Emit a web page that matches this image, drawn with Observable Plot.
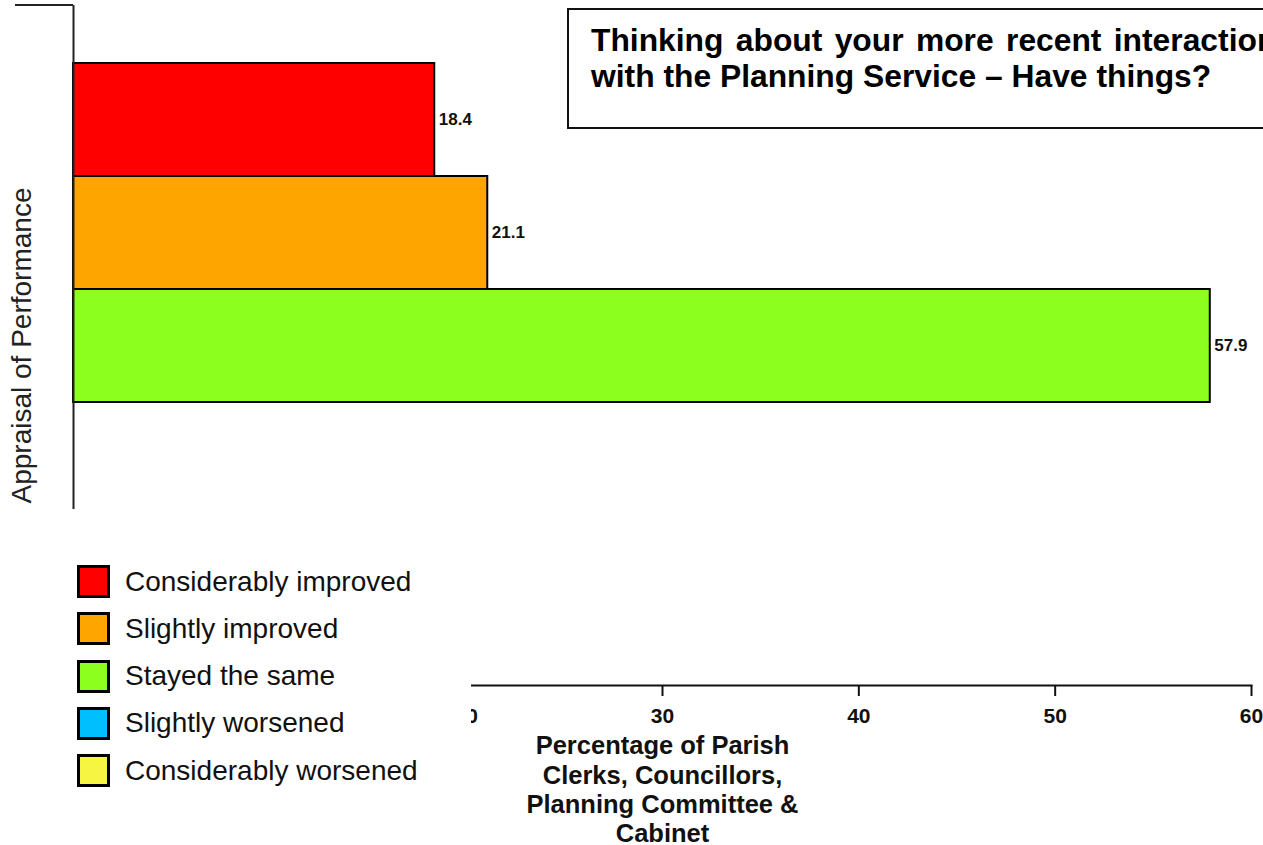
<!DOCTYPE html>
<html>
<head>
<meta charset="utf-8">
<script src="https://cdn.jsdelivr.net/npm/d3@7"></script>
<script src="https://cdn.jsdelivr.net/npm/@observablehq/plot@0.6"></script>
<style>
  html, body { margin: 0; padding: 0; background: #fff; }
  body { width: 1263px; height: 845px; position: relative; overflow: hidden;
         font-family: "Liberation Sans", Arial, sans-serif; }
  #chart { position: absolute; left: 0; top: 0; }
  #title { position: absolute; left: 567px; top: 8px; width: 760px; height: 121px;
           border: 2px solid #111; background: #fff; box-sizing: border-box; }
  #title div { position: absolute; left: 22px; top: 12px; font-weight: bold; font-size: 31.8px;
               line-height: 36px; color: #000; white-space: nowrap; }
  #title .wide { word-spacing: 3.5px; }
  #legend { position: absolute; left: 0; top: 509px; width: 471px; height: 336px; background: #fff; }
  .row { position: absolute; left: 77px; height: 33px; display: flex; align-items: center; }
  .sw { width: 33px; height: 33px; box-sizing: border-box; border: 3px solid #000; }
  .lab { margin-left: 15px; font-size: 28px; color: #111; white-space: nowrap; }
  #corner { position: absolute; left: 15px; top: 4px; width: 58px; height: 2px; background: #222; }
</style>
</head>
<body>
<div id="chart"></div>
<div id="corner"></div>
<div id="title"><div><span class="wide">Thinking about your more recent interactions</span><br>with the Planning Service – Have things?</div></div>
<div id="legend"></div>
<script>
// Response categories, in the order they are listed
const categories = [
  "Considerably improved",
  "Slightly improved",
  "Stayed the same",
  "Slightly worsened",
  "Considerably worsened"
];
// Percentage of respondents per category
const percentages = [18.4, 21.1, 57.9, 0, 0];
// Fill colour per category
const colors = ["#ff0000", "#ffa500", "#8cff1e", "#00bfff", "#f5f542"];
// Labelled ticks on the visible stretch of the percentage axis
const xTicks = [20, 30, 40, 50, 60];

const xLabel = "Percentage of Parish\nClerks, Councillors,\nPlanning Committee &\nCabinet";
const yLabel = "Appraisal of Performance";

const rows = categories.map((c, i) => ({category: c, value: percentages[i]}));
const shown = rows.filter(d => d.value > 0);

const chart = Plot.plot({
  width: 1263,
  height: 845,
  marginLeft: 73,
  marginRight: 12,
  marginTop: 5,
  marginBottom: 160,
  style: {fontFamily: "'Liberation Sans', Arial, sans-serif", background: "transparent", color: "#111"},
  x: {domain: [0, 60], axis: null},
  y: {domain: categories, paddingInner: 0, paddingOuter: 0.5, axis: null},
  color: {domain: categories, range: colors},
  marks: [
    Plot.barX(shown, {y: "category", x: "value", fill: "category", stroke: "#000", strokeWidth: 2}),
    Plot.text(shown, {
      y: "category", x: "value", text: d => d.value.toFixed(1),
      textAnchor: "start", dx: 4, fontSize: 17, fontWeight: "bold", fill: "#111"
    }),
    Plot.ruleX([0], {stroke: "#222", strokeWidth: 2}),
    Plot.frame({anchor: "bottom", stroke: "#111", strokeWidth: 2}),
    Plot.axisX({
      ticks: xTicks, tickSize: 11, tickPadding: 12, strokeWidth: 2,
      fontSize: 21, fontWeight: "bold", label: null
    }),
    Plot.text([xLabel], {
      frameAnchor: "bottom", lineAnchor: "top", dy: 48,
      fontSize: 25.5, fontWeight: "bold", lineHeight: 29.3 / 25.5, fill: "#111"
    }),
    Plot.text([yLabel], {
      frameAnchor: "left", textAnchor: "middle", rotate: -90, dx: -51, fontSize: 28, fill: "#222"
    })
  ]
});
document.getElementById("chart").appendChild(chart);

// Legend listing every response category
const legend = d3.select("#legend");
categories.forEach((c, i) => {
  const row = legend.append("div").attr("class", "row").style("top", (56 + i * 47.3) + "px");
  row.append("div").attr("class", "sw").style("background", colors[i]);
  row.append("div").attr("class", "lab").text(c);
});
</script>
</body>
</html>
